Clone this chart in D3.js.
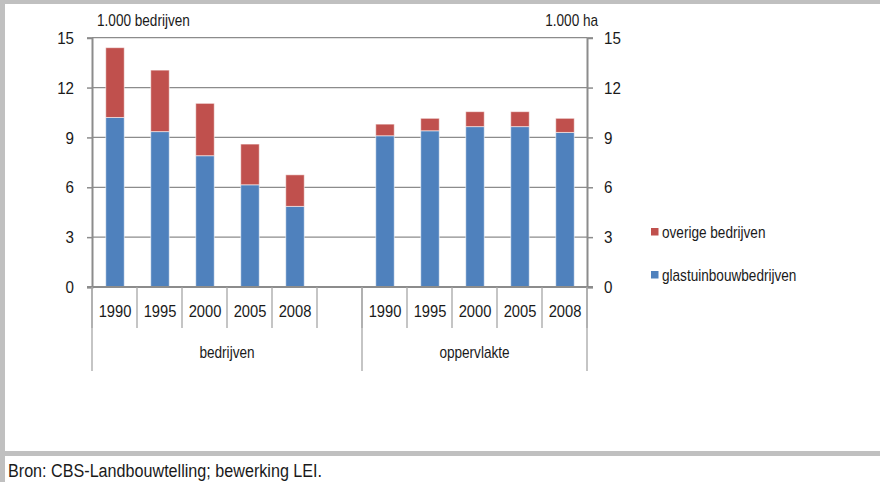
<!DOCTYPE html>
<html>
<head>
<meta charset="utf-8">
<script src="https://cdn.jsdelivr.net/npm/d3@7"></script>
<style>
  html, body { margin: 0; padding: 0; background: #fff; }
  svg { display: block; font-family: "Liberation Sans", Arial, sans-serif; }
</style>
</head>
<body>
<svg id="chart" width="880" height="482"></svg>
<script>
// Glastuinbouw: aantal bedrijven (x 1.000) en oppervlakte (x 1.000 ha)
const years = ["1990", "1995", "2000", "2005", "2008"];
const groups = ["bedrijven", "oppervlakte"];
const glastuinbouwBedrijven = [10.2, 9.35, 7.9, 6.15, 4.85];
const overigeBedrijven = [4.2, 3.7, 3.15, 2.45, 1.9];
const glastuinbouwOppervlakte = [9.1, 9.4, 9.65, 9.65, 9.3];
const overigeOppervlakte = [0.7, 0.75, 0.9, 0.9, 0.85];
const yTicks = [0, 3, 6, 9, 12, 15];
const seriesNames = ["glastuinbouwbedrijven", "overige bedrijven"];
const seriesColors = ["#4F81BD", "#C0504D"];

// Category slots: five years per group with an empty slot after the first group
const rows = [];
years.forEach((yr, i) => rows.push({ key: "b" + yr, year: yr, group: 0,
  glastuinbouwbedrijven: glastuinbouwBedrijven[i], "overige bedrijven": overigeBedrijven[i] }));
rows.push({ key: "gap", year: "", group: 0, glastuinbouwbedrijven: 0, "overige bedrijven": 0, empty: true });
years.forEach((yr, i) => rows.push({ key: "o" + yr, year: yr, group: 1,
  glastuinbouwbedrijven: glastuinbouwOppervlakte[i], "overige bedrijven": overigeOppervlakte[i] }));

const svg = d3.select("#chart");
const W = 880, H = 482;
const plotLeft = 92, plotRight = 587, plotTop = 37.7, plotBottom = 287;
const fontSize = "16px";
const textColor = "#1a1a1a";

// Condensed look: squeeze text horizontally around its anchor point
function narrow(sel, origin, factor = 0.85) {
  sel.style("transform-box", "fill-box")
    .style("transform-origin", origin + " center")
    .style("transform", `scaleX(${factor})`);
  return sel;
}

// Frame
svg.append("rect").attr("x", 0).attr("y", 0).attr("width", W).attr("height", 4).attr("fill", "#c0c0c0");
svg.append("rect").attr("x", 0).attr("y", 0).attr("width", 5).attr("height", H).attr("fill", "#c0c0c0");
svg.append("rect").attr("x", 0).attr("y", 451).attr("width", W).attr("height", 5).attr("fill", "#c0c0c0");

const x = d3.scaleBand().domain(rows.map(r => r.key)).range([plotLeft, plotRight]).paddingInner(0).paddingOuter(0);
const y = d3.scaleLinear().domain([0, 15]).range([plotBottom, plotTop]);

// Gridlines
svg.append("g").selectAll("line").data(yTicks.filter(t => t > 0)).join("line")
  .attr("x1", plotLeft).attr("x2", plotRight)
  .attr("y1", d => y(d)).attr("y2", d => y(d))
  .attr("stroke", "#8c8c8c").attr("stroke-width", 1.3);

// Stacked bars
const stack = d3.stack().keys(seriesNames);
const stacked = stack(rows.filter(r => !r.empty));
const barW = 18.5;
svg.append("g").selectAll("g").data(stacked).join("g")
  .attr("fill", (d, i) => seriesColors[i])
  .selectAll("rect").data(d => d).join("rect")
  .attr("x", d => x(d.data.key) + x.bandwidth() / 2 - barW / 2 + 0.5)
  .attr("width", barW)
  .attr("y", d => y(d[1]))
  .attr("height", d => y(d[0]) - y(d[1]))
  .attr("stroke", "#ffffff").attr("stroke-opacity", 0.55).attr("stroke-width", 1);

// Value axes (left: bedrijven, right: ha)
const axisColor = "#8c8c8c";
const gl = svg.append("g").attr("transform", `translate(${plotLeft},0)`)
  .call(d3.axisLeft(y).tickValues(yTicks).tickSize(5).tickPadding(13).tickFormat(d3.format("d")));
const gr = svg.append("g").attr("transform", `translate(${plotRight},0)`)
  .call(d3.axisRight(y).tickValues(yTicks).tickSize(6).tickPadding(11).tickFormat(d3.format("d")));
[[gl, "right"], [gr, "left"]].forEach(([g, origin]) => {
  g.select(".domain").attr("stroke", axisColor).attr("stroke-width", 2);
  g.selectAll(".tick line").attr("stroke", axisColor).attr("stroke-width", 1.5);
  g.selectAll(".tick text").attr("fill", textColor).style("font-size", "16.5px")
    .style("font-family", "'Liberation Sans', Arial, sans-serif").attr("dy", "0.34em")
    .call(narrow, origin, 0.92);
});

// Category axis line
svg.append("line").attr("x1", plotLeft - 5).attr("x2", plotRight + 6).attr("y1", plotBottom).attr("y2", plotBottom)
  .attr("stroke", axisColor).attr("stroke-width", 2);

// Year separators and labels
const sepColor = "#a6a6a6";
const shortSeps = rows.map(r => x(r.key)).concat([plotRight]);
svg.append("g").selectAll("line").data(shortSeps).join("line")
  .attr("x1", d => d).attr("x2", d => d).attr("y1", plotBottom).attr("y2", 328)
  .attr("stroke", sepColor).attr("stroke-width", 1.3);
svg.append("g").selectAll("text").data(rows.filter(r => !r.empty)).join("text")
  .attr("x", d => x(d.key) + x.bandwidth() / 2 + 0.5)
  .attr("y", 311).attr("dy", "0.35em").attr("text-anchor", "middle")
  .style("font-size", fontSize).attr("fill", textColor)
  .text(d => d.year)
  .call(narrow, "center", 0.92);

// Group separators and labels
const groupBounds = [
  [x("b1990"), x("o1990")],
  [x("o1990"), plotRight]
];
svg.append("g").selectAll("line").data([groupBounds[0][0], groupBounds[1][0], groupBounds[1][1]]).join("line")
  .attr("x1", d => d).attr("x2", d => d).attr("y1", plotBottom).attr("y2", 371)
  .attr("stroke", sepColor).attr("stroke-width", 1.3);
svg.append("g").selectAll("text").data(groups).join("text")
  .attr("x", (d, i) => (groupBounds[i][0] + groupBounds[i][1]) / 2)
  .attr("y", 352).attr("dy", "0.35em").attr("text-anchor", "middle")
  .style("font-size", fontSize).attr("fill", textColor)
  .text(d => d)
  .call(narrow, "center");

// Axis titles
svg.append("text").attr("x", 97).attr("y", 26).style("font-size", fontSize).attr("fill", textColor)
  .text("1.000 bedrijven").call(narrow, "left");
svg.append("text").attr("x", 598).attr("y", 26).attr("text-anchor", "end").style("font-size", fontSize).attr("fill", textColor)
  .text("1.000 ha").call(narrow, "right");

// Legend (overige on top)
const legendItems = [
  { name: seriesNames[1], color: seriesColors[1], cy: 232 },
  { name: seriesNames[0], color: seriesColors[0], cy: 275 }
];
const lg = svg.append("g").selectAll("g").data(legendItems).join("g");
lg.append("rect").attr("x", 651).attr("y", d => d.cy - 4).attr("width", 7.5).attr("height", 7.5).attr("fill", d => d.color);
lg.append("text").attr("x", 662).attr("y", d => d.cy).attr("dy", "0.35em")
  .style("font-size", fontSize).attr("fill", textColor).text(d => d.name)
  .call(narrow, "left");

// Source line
svg.append("text").attr("x", 8).attr("y", 470).attr("dy", "0.35em")
  .style("font-size", "19px").attr("fill", textColor)
  .text("Bron: CBS-Landbouwtelling; bewerking LEI.")
  .call(narrow, "left");
</script>
</body>
</html>
